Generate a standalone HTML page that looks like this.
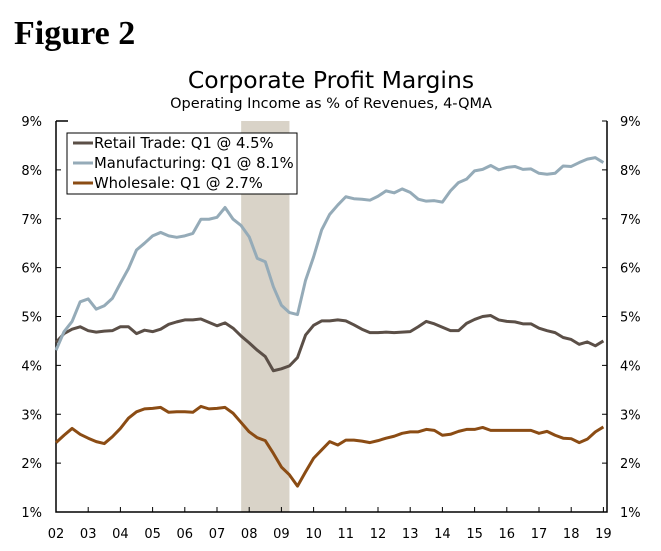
<!DOCTYPE html>
<html><head><meta charset="utf-8"><style>
body{margin:0;background:#fff;width:661px;height:551px;overflow:hidden;font-family:"DejaVu Sans","Liberation Sans",sans-serif}
svg{position:absolute;left:0;top:0}
</style></head><body>
<svg id="c" width="661" height="551">
<text x="14" y="44" font-family="Liberation Serif,serif" font-weight="bold" font-size="34">Figure 2</text>
<text x="331" y="88" text-anchor="middle" font-size="23.5">Corporate Profit Margins</text>
<text x="331" y="108" text-anchor="middle" font-size="14.5">Operating Income as % of Revenues, 4-QMA</text>
<g id="plot"></g>
</svg>
<script>
const yTicks=[1,2,3,4,5,6,7,8,9];
const xLabels=["02","03","04","05","06","07","08","09","10","11","12","13","14","15","16","17","18","19"];
const recession=[2007.75,2009.25];
const startYear=2002;
const retail=[4.47,4.65,4.74,4.79,4.71,4.68,4.70,4.71,4.79,4.79,4.65,4.72,4.69,4.74,4.84,4.89,4.93,4.93,4.95,4.88,4.81,4.87,4.76,4.60,4.46,4.31,4.18,3.89,3.93,3.99,4.16,4.62,4.82,4.91,4.91,4.93,4.91,4.83,4.74,4.67,4.67,4.68,4.67,4.68,4.69,4.79,4.90,4.85,4.78,4.71,4.71,4.86,4.94,5.00,5.02,4.93,4.90,4.89,4.85,4.85,4.76,4.71,4.67,4.57,4.53,4.43,4.48,4.40,4.50];
const manufacturing=[4.31,4.69,4.90,5.30,5.36,5.15,5.22,5.37,5.68,5.98,6.36,6.50,6.65,6.72,6.65,6.62,6.65,6.70,6.99,6.99,7.03,7.23,6.99,6.86,6.63,6.19,6.12,5.61,5.23,5.08,5.04,5.74,6.22,6.77,7.09,7.28,7.45,7.41,7.40,7.38,7.46,7.57,7.53,7.61,7.54,7.40,7.36,7.37,7.34,7.57,7.74,7.81,7.98,8.01,8.09,8.00,8.05,8.07,8.01,8.02,7.93,7.91,7.93,8.08,8.07,8.15,8.22,8.25,8.15];
const wholesale=[2.42,2.57,2.71,2.59,2.51,2.44,2.40,2.54,2.71,2.92,3.05,3.11,3.12,3.14,3.04,3.05,3.05,3.04,3.16,3.11,3.12,3.14,3.02,2.83,2.64,2.52,2.46,2.20,1.92,1.76,1.53,1.82,2.10,2.27,2.44,2.37,2.47,2.47,2.45,2.42,2.46,2.51,2.55,2.61,2.64,2.64,2.69,2.67,2.57,2.59,2.65,2.69,2.69,2.73,2.67,2.67,2.67,2.67,2.67,2.67,2.61,2.65,2.57,2.51,2.50,2.42,2.49,2.64,2.74];
const seriesNames=["Retail Trade: Q1 @ 4.5%","Manufacturing: Q1 @ 8.1%","Wholesale: Q1 @ 2.7%"];
const L=56,R=607,T=121,B=512;
const X=t=>L+(t-startYear)*32.2;
const Y=v=>B-(v-1)*(B-T)/8;
const NS="http://www.w3.org/2000/svg";
const g=document.getElementById('plot');
function mk(tag,at,parent){const e=document.createElementNS(NS,tag);for(const k in at)e.setAttribute(k,at[k]);(parent||g).appendChild(e);return e;}
const sh=mk('rect',{x:X(recession[0]),y:T,width:X(recession[1])-X(recession[0]),height:B-T,fill:'#d9d3c8'});


const frame=mk('path',{d:`M${L},${T}V${B}H${R}V${T}`,fill:'none',stroke:'#000','stroke-width':1.5});


mk('line',{x1:L,y1:T,x2:L+12,y2:T,stroke:'#000','stroke-width':1.5});
yTicks.forEach(v=>{
  const y=Y(v);
  mk('line',{x1:L,y1:y,x2:L+5,y2:y,stroke:'#000'});
  mk('line',{x1:R-5,y1:y,x2:R,y2:y,stroke:'#000'});
  const a=mk('text',{x:42,y:y+5,'text-anchor':'end','font-size':13});a.textContent=v+'%';
  
  
  const b=mk('text',{x:620,y:y+5,'font-size':13});b.textContent=v+'%';
  
  
});
xLabels.forEach((s,i)=>{
  const x=X(startYear+i);
  mk('line',{x1:x,y1:B,x2:x,y2:B-5,stroke:'#000'});
  const t=mk('text',{x:x,y:538,'text-anchor':'middle','font-size':13});t.textContent=s;
  
  
});
const colors=['#5b4f47','#95abb8','#8b4c14'];
[retail,manufacturing,wholesale].forEach((d,k)=>{
  const p=mk('polyline',{points:d.map((v,i)=>X(startYear+i/4)+','+Y(v)).join(' '),fill:'none',stroke:colors[k],'stroke-width':3,'stroke-linejoin':'round'});
  
  
});
const lg=mk('g',{});


mk('rect',{x:67,y:133,width:230,height:61,fill:'#fff',stroke:'#000','stroke-width':1},lg);
seriesNames.forEach((s,k)=>{
  const y=143+k*20;
  mk('line',{x1:73,y1:y,x2:93,y2:y,stroke:colors[k],'stroke-width':3},lg);
  const t=mk('text',{x:94,y:y+5,'font-size':14.8},lg);t.textContent=s;
  
  
});
</script>
</body></html>
